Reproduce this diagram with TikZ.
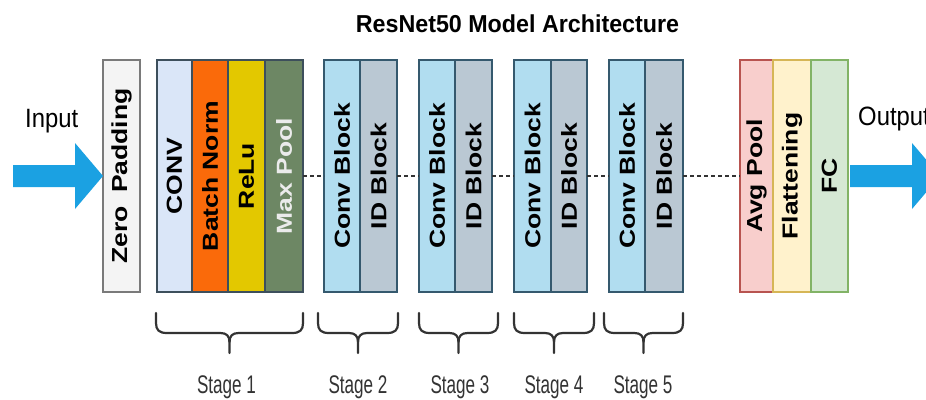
\documentclass[tikz,border=0pt]{standalone}
\usepackage{fontspec}
\setmainfont{Liberation Sans}
\usepackage{graphicx}
\usetikzlibrary{calc}

\definecolor{zpfill}{HTML}{F4F4F4}
\definecolor{zpdraw}{HTML}{7A7A7A}
\definecolor{convfill}{HTML}{DAE6F8}
\definecolor{bnfill}{HTML}{FA6A0A}
\definecolor{relufill}{HTML}{E3C800}
\definecolor{mpfill}{HTML}{6D8764}
\definecolor{stdraw}{HTML}{3D4F5C}
\definecolor{cbfill}{HTML}{B1DDF0}
\definecolor{idfill}{HTML}{BAC8D3}
\definecolor{blkdraw}{HTML}{35596E}
\definecolor{apfill}{HTML}{F8CECC}
\definecolor{apdraw}{HTML}{B85450}
\definecolor{flfill}{HTML}{FFF2CC}
\definecolor{fldraw}{HTML}{D6B656}
\definecolor{fcfill}{HTML}{D5E8D4}
\definecolor{fcdraw}{HTML}{82B366}
\definecolor{flowblue}{HTML}{1BA1E2}
\definecolor{inkgray}{HTML}{333333}

% rotated bold layer caption, slightly thinner across the column
\newcommand\vtext[1]{\rotatebox{90}{\scalebox{1}[0.82]{\fontsize{26.5}{30}\selectfont\bfseries #1}}}
% condensed caption used under the braces
\newcommand\stagetext[1]{\scalebox{0.67}[1]{\fontsize{25.5}{28}\selectfont #1}}
% curly brace between two x positions
\newcommand\stagebrace[2]{%
  \draw[bracepen] (#1,313) -- (#1,323)
    .. controls (#1,330) and ({#1+3},333) .. ({#1+11},333)
    -- ({(#1+#2)/2-9},333)
    .. controls ({(#1+#2)/2-3},333) and ({(#1+#2)/2},336) .. ({(#1+#2)/2},342)
    -- ({(#1+#2)/2},353);
  \draw[bracepen] (#2,313) -- (#2,323)
    .. controls (#2,330) and ({#2-3},333) .. ({#2-11},333)
    -- ({(#1+#2)/2+9},333)
    .. controls ({(#1+#2)/2+3},333) and ({(#1+#2)/2},336) .. ({(#1+#2)/2},342);
}

\begin{document}
\begin{tikzpicture}[x=1pt,y=-1pt,
  layer/.style={draw, minimum height=232pt, inner sep=0pt, outer sep=0pt,
                anchor=west, line width=1.1pt},
  dashline/.style={draw=inkgray, line width=1.4pt, dash pattern=on 4pt off 3pt},
  bracepen/.style={draw=inkgray, line width=2.2pt, line cap=round, line join=round},
  flow/.style={fill=flowblue},
  stagelbl/.style={inner sep=0pt, anchor=base, text=inkgray},
  plainlbl/.style={inner sep=0pt, anchor=base west, text=black}]

\clip (0,0) rectangle (926,399);
\fill[white] (0,0) rectangle (926,399);

% title
\node[inner sep=0pt, anchor=base] (title) at (517.5,32)
  {\scalebox{0.95}[1]{\fontsize{24.5}{27}\selectfont\bfseries ResNet50 Model Architecture}};

% input side
\node[layer, minimum width=37pt, fill=zpfill, draw=zpdraw] (zp) at (103,176)
  {\vtext{Zero\hspace{0.5em}Padding}};

% stage 1
\node[layer, minimum width=35pt, fill=convfill, draw=stdraw] (conv) at (157,176) {\vtext{CONV}};
\node[layer, minimum width=36pt, fill=bnfill, draw=stdraw] (bn) at (192,176) {\vtext{Batch Norm}};
\node[layer, minimum width=37pt, fill=relufill, draw=stdraw] (relu) at (228,176) {\vtext{ReLu}};
\node[layer, minimum width=38pt, fill=mpfill, draw=stdraw, text=white!92!black] (mp) at (265,176) {\vtext{Max Pool}};

% stages 2 to 5
\node[layer, minimum width=36pt, fill=cbfill, draw=blkdraw] (cb2) at (324,176) {\vtext{Conv Block}};
\node[layer, minimum width=37pt, fill=idfill, draw=blkdraw] (id2) at (360,176) {\vtext{ID Block}};
\node[layer, minimum width=36pt, fill=cbfill, draw=blkdraw] (cb3) at (419,176) {\vtext{Conv Block}};
\node[layer, minimum width=37pt, fill=idfill, draw=blkdraw] (id3) at (455,176) {\vtext{ID Block}};
\node[layer, minimum width=37pt, fill=cbfill, draw=blkdraw] (cb4) at (514,176) {\vtext{Conv Block}};
\node[layer, minimum width=36pt, fill=idfill, draw=blkdraw] (id4) at (551,176) {\vtext{ID Block}};
\node[layer, minimum width=36pt, fill=cbfill, draw=blkdraw] (cb5) at (609,176) {\vtext{Conv Block}};
\node[layer, minimum width=38pt, fill=idfill, draw=blkdraw] (id5) at (645,176) {\vtext{ID Block}};

% head
\node[layer, minimum width=33pt, fill=apfill, draw=apdraw] (ap) at (740,176) {\vtext{Avg Pool}};
\node[layer, minimum width=38pt, fill=flfill, draw=fldraw] (fl) at (773,176) {\vtext{Flattening}};
\node[layer, minimum width=37pt, fill=fcfill, draw=fcdraw] (fc) at (811,176) {\vtext{FC}};

% dashed links between groups
\draw[dashline] (mp.east) -- (cb2.west);
\draw[dashline] (id2.east) -- (cb3.west);
\draw[dashline] (id3.east) -- (cb4.west);
\draw[dashline] (id4.east) -- (cb5.west);
\draw[dashline] (id5.east) -- (ap.west);

% block arrows
\coordinate (intail) at (13,176);
\coordinate (outtip) at (940,176);
\fill[flow] ($(intail)+(0,-11)$) -- ($(zp.west)+(-28,-11)$) -- ($(zp.west)+(-28,-33)$)
  -- (zp.west) -- ($(zp.west)+(-28,33)$) -- ($(zp.west)+(-28,11)$)
  -- ($(intail)+(0,11)$) -- cycle;
\fill[flow] ($(fc.east)+(2,-11)$) -- ($(outtip)+(-28,-11)$) -- ($(outtip)+(-28,-33)$)
  -- (outtip) -- ($(outtip)+(-28,33)$) -- ($(outtip)+(-28,11)$)
  -- ($(fc.east)+(2,11)$) -- cycle;

\node[plainlbl] (inlbl) at (25,127) {\scalebox{0.9}[1]{\fontsize{26.5}{30}\selectfont Input}};
\node[plainlbl] (outlbl) at (858,125) {\scalebox{0.9}[1]{\fontsize{26.5}{30}\selectfont Output}};

% stage braces and captions
\stagebrace{156}{303}
\stagebrace{318}{398}
\stagebrace{419}{498}
\stagebrace{514}{594}
\stagebrace{604}{683}
\node[stagelbl] (s1) at (226.5,393) {\stagetext{Stage 1}};
\node[stagelbl] (s2) at (358,393) {\stagetext{Stage 2}};
\node[stagelbl] (s3) at (460,393) {\stagetext{Stage 3}};
\node[stagelbl] (s4) at (554,393) {\stagetext{Stage 4}};
\node[stagelbl] (s5) at (643,393) {\stagetext{Stage 5}};
\end{tikzpicture}
\end{document}
